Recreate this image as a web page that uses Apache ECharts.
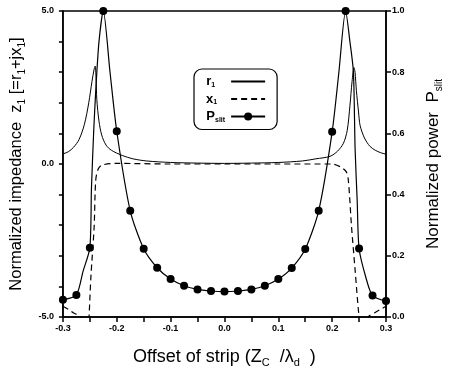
<!DOCTYPE html>
<html lang="en">
<head>
    <meta charset="UTF-8">
    <title>Offset of strip</title>
    <script src="https://cdn.jsdelivr.net/npm/echarts@6/dist/echarts.min.js"></script>
</head>
<style>
    html, body {
        margin: 0;
        padding: 0;
        background: #fff;
    }
</style>
<body>
<div id="main" style="width:457px;height:376px;"></div>
<script type="text/javascript">
    // P_slit: points with markers
    var pX = [-0.3, -0.275, -0.25, -0.225, -0.2, -0.175, -0.15, -0.125, -0.1, -0.075, -0.05, -0.025, 0,
        0.025, 0.05, 0.075, 0.1, 0.125, 0.15, 0.175, 0.2, 0.225, 0.25, 0.275, 0.3];
    var pVal = [0.056, 0.072, 0.226, 1.0, 0.607, 0.347, 0.223, 0.161, 0.124, 0.102, 0.09, 0.085, 0.083,
        0.085, 0.09, 0.102, 0.124, 0.16, 0.222, 0.347, 0.605, 1.0, 0.224, 0.07, 0.052];
    // P_slit: extra points of the curve (no marker)
    var pLineX = [-0.2625, -0.247, -0.243, -0.239, -0.233, -0.2125, 0.2125, 0.233, 0.2395, 0.2426, 0.2465, 0.2625];
    var pLineVal = [0.15, 0.42, 0.6, 0.74, 0.9, 0.8, 0.8, 0.9, 0.8, 0.55, 0.38, 0.13];

    // r1 (solid)
    var r1X = [-0.3, -0.29, -0.28, -0.27, -0.26, -0.252, -0.246, -0.242, -0.24, -0.2385, -0.237, -0.233, -0.228,
        -0.22, -0.21, -0.19, -0.17, -0.145, -0.1, -0.05, 0, 0.05, 0.1, 0.145, 0.17, 0.196, 0.21, 0.221,
        0.228, 0.233, 0.237, 0.2405, 0.2425, 0.245, 0.249, 0.252, 0.26, 0.27, 0.28, 0.29, 0.3];
    var r1Val = [0.33, 0.4, 0.55, 0.8, 1.3, 2.0, 2.7, 3.1, 3.2, 2.8, 2.1, 1.4, 0.95,
        0.62, 0.45, 0.28, 0.17, 0.1, 0.05, 0.03, 0.02, 0.03, 0.05, 0.1, 0.17, 0.25, 0.42, 0.68,
        1.1, 1.9, 2.7, 3.15, 3.0, 2.4, 1.7, 1.25, 0.85, 0.58, 0.45, 0.37, 0.32];

    // x1 (dashed)
    var x1X = [-0.3, -0.29, -0.28, -0.267, -0.262, -0.256, -0.252, -0.251, -0.248, -0.242, -0.239, -0.234,
        -0.2265, -0.2, -0.1, 0, 0.1, 0.2, 0.215, 0.226, 0.23, 0.236, 0.2426, 0.2487, 0.251, 0.256,
        0.262, 0.267, 0.28, 0.29, 0.3];
    var x1Val = [-4.65, -4.75, -4.87, -5.0, -5.4, -5.5, -5.1, -4.83, -3.68, -2.05, -0.52, -0.15,
        -0.03, 0.02, 0.0, 0.0, 0.0, 0.0, -0.09, -0.25, -0.52, -2.05, -3.46, -4.77, -5.05, -5.5,
        -5.4, -5.0, -4.85, -4.75, -4.65];

    var xLabels = [-0.3, -0.2, -0.1, 0, 0.1, 0.2, 0.3];
    var leftLabels = [-5, 0, 5];

    var font = 'Liberation Sans, Arial, sans-serif';

    function pairs(xs, ys) {
        return xs.map(function (x, i) {
            return [x, ys[i]];
        });
    }

    var pData = [];
    pX.forEach(function (x, i) {
        pData.push({value: [x, pVal[i]]});
    });
    pLineX.forEach(function (x, i) {
        pData.push({value: [x, pLineVal[i]], symbol: 'none'});
    });
    pData.sort(function (a, b) {
        return a.value[0] - b.value[0];
    });

    function nameRich(size) {
        return {
            t: {fontSize: size, fontFamily: font, color: '#000', lineHeight: 22},
            s: {fontSize: Math.round(size * 0.6), fontFamily: font, color: '#000', lineHeight: 22, verticalAlign: 'bottom'}
        };
    }

    var legSub = {fontSize: 7, fontWeight: 'bold', fontFamily: font, color: '#000', lineHeight: 14, verticalAlign: 'bottom'};

    var myChart = echarts.init(document.getElementById('main'));

    var option = {
        backgroundColor: '#fff',
        animation: false,
        grid: {
            left: 62, right: 71, top: 11, bottom: 59,
            show: true, borderColor: '#000', borderWidth: 1.5
        },
        legend: {
            orient: 'vertical',
            left: 194,
            top: 69,
            align: 'right',
            itemWidth: 34,
            itemHeight: 10,
            itemGap: 4,
            padding: [6, 11, 6, 12],
            borderColor: '#000',
            borderWidth: 1.2,
            borderRadius: 8,
            data: [
                {name: 'r1', itemStyle: {opacity: 0}},
                {name: 'x1', itemStyle: {opacity: 0}},
                {name: 'Pslit'}
            ],
            formatter: function (name) {
                if (name === 'r1') return '{n|r}{s|1}{pa| }';
                if (name === 'x1') return '{n|x}{s|1}{pb| }';
                return '{n|P}{s|slit}{pc| }';
            },
            textStyle: {
                rich: {
                    n: {fontSize: 13, fontWeight: 'bold', fontFamily: font, color: '#000', lineHeight: 14},
                    s: legSub,
                    pa: {fontSize: 7, width: 11},
                    pb: {fontSize: 7, width: 9},
                    pc: {fontSize: 7, width: 1}
                }
            }
        },
        xAxis: {
            type: 'value',
            min: -0.3,
            max: 0.3,
            interval: 0.05,
            name: '{t|Offset of strip (Z}{s|C}{t|  /λ}{s|d}{t|  )}',
            nameLocation: 'middle',
            nameGap: 29,
            nameTextStyle: {rich: nameRich(18)},
            axisLine: {onZero: false, lineStyle: {color: '#000', width: 1.5}},
            axisTick: {show: true, length: 5, lineStyle: {color: '#000', width: 1.5}},
            splitLine: {show: false},
            axisLabel: {
                color: '#000', fontSize: 9, fontWeight: 'bold', fontFamily: font, margin: 7,
                formatter: function (v) {
                    for (var i = 0; i < xLabels.length; i++) {
                        if (Math.abs(v - xLabels[i]) < 1e-6) return xLabels[i].toFixed(1);
                    }
                    return '';
                }
            }
        },
        yAxis: [
            {
                type: 'value',
                min: -5,
                max: 5,
                interval: 1,
                position: 'left',
                name: '{t|Normalized impedance  z}{s|1}{t| [=r}{s|1}{t|+jx}{s|1}{t|]}',
                nameLocation: 'middle',
                nameGap: 29,
                nameTextStyle: {rich: nameRich(16.5)},
                axisLine: {onZero: false, lineStyle: {color: '#000', width: 1.5}},
                axisTick: {length: 4, lineStyle: {color: '#000', width: 1.5}},
                splitLine: {show: false},
                axisLabel: {
                    color: '#000', fontSize: 9, fontWeight: 'bold', fontFamily: font, margin: 9,
                    formatter: function (v) {
                        return leftLabels.indexOf(Math.round(v)) >= 0 && Math.abs(v - Math.round(v)) < 1e-6 ? v.toFixed(1) : '';
                    }
                }
            },
            {
                type: 'value',
                min: 0,
                max: 1,
                interval: 0.2,
                position: 'right',
                name: '{t|Normalized power  P}{s|slit}',
                nameLocation: 'middle',
                nameGap: 36,
                nameRotate: 90,
                nameTextStyle: {rich: nameRich(17)},
                axisLine: {show: true, onZero: false, lineStyle: {color: '#000', width: 1.5}},
                axisTick: {length: 5, lineStyle: {color: '#000', width: 1.5}},
                splitLine: {show: false},
                axisLabel: {
                    color: '#000', fontSize: 9, fontWeight: 'bold', fontFamily: font, margin: 6,
                    formatter: function (v) {
                        return v.toFixed(1);
                    }
                }
            }
        ],
        series: [
            {
                name: 'r1',
                type: 'line',
                yAxisIndex: 0,
                data: pairs(r1X, r1Val),
                smooth: 0.3,
                symbol: 'none',
                itemStyle: {color: '#000'},
                lineStyle: {color: '#000', width: 1}
            },
            {
                name: 'x1',
                type: 'line',
                yAxisIndex: 0,
                data: pairs(x1X, x1Val),
                smooth: 0.3,
                symbol: 'none',
                itemStyle: {color: '#000'},
                lineStyle: {color: '#000', width: 1.2, type: [6, 4]}
            },
            {
                name: 'Pslit',
                type: 'line',
                yAxisIndex: 1,
                data: pData,
                smooth: 0.25,
                symbol: 'circle',
                symbolSize: 8,
                itemStyle: {color: '#000'},
                lineStyle: {color: '#000', width: 1.2}
            }
        ]
    };

    myChart.setOption(option);
</script>
</body>
</html>
